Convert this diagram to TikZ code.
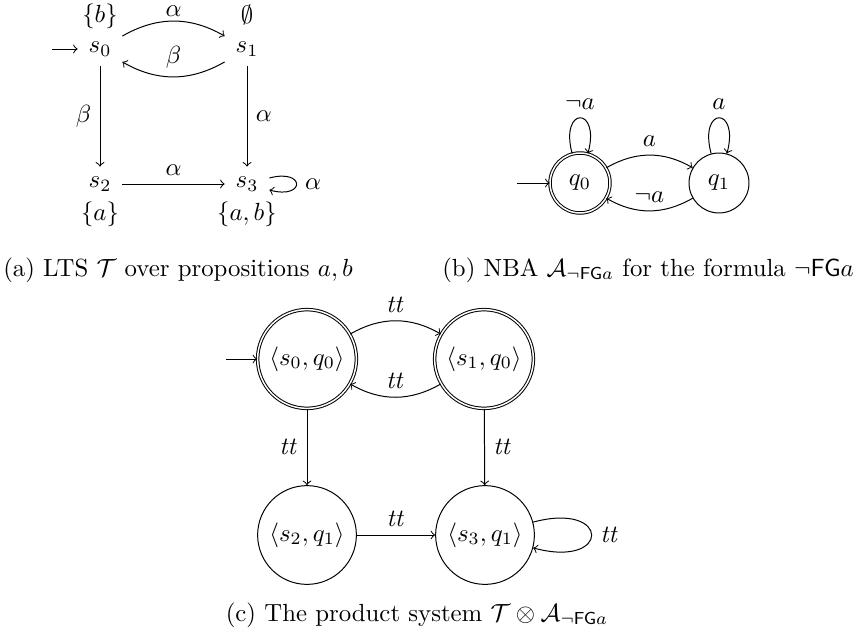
\documentclass[tikz,border=0pt]{standalone}
\usepackage{amssymb}
\begin{document}
\begin{tikzpicture}[x=0.01417cm, y=-0.01417cm,
  lts/.style={minimum width=0.62cm, minimum height=0.48cm, inner sep=0pt},
  nba/.style={circle, draw, minimum size=0.85cm, inner sep=0pt},
  prod/.style={circle, draw, minimum size=1.4cm, inner sep=0pt},
  acc/.style={double},
  arrow/.style={->}
]
\useasboundingbox (0,0) rectangle (857,635);
\node[lts] (s0) at (100,49) {$s_0$};
\node[lts] (s1) at (247,49) {$s_1$};
\node[lts] (s2) at (100,184) {$s_2$};
\node[lts] (s3) at (247,184) {$s_3$};
\node (ls0) at (100,16) {$\{b\}$};
\node (ls1) at (247,15) {$\emptyset$};
\node (ls2) at (100,214) {$\{a\}$};
\node (ls3) at (247,214) {$\{a,b\}$};
\coordinate (is) at (52,49);
\draw[arrow] (is) -- (s0);
\draw[arrow] (s0) to[bend left] node[above, inner sep=1.5pt] {$\alpha$} (s1);
\draw[arrow] (s1) to[bend left] node[above] {$\beta$} (s0);
\draw[arrow] (s0) -- node[left] {$\beta$} (s2);
\draw[arrow] (s1) -- node[right] {$\alpha$} (s3);
\draw[arrow] (s2) -- node[above] {$\alpha$} (s3);
\draw[arrow] (s3) to[loop right] node[right] {$\alpha$} (s3);

\node[nba, acc] (q0) at (580,183) {$q_0$};
\node[nba] (q1) at (719,183) {$q_1$};
\coordinate (iq) at (517,183);
\draw[arrow] (iq) -- (q0);
\draw[arrow] (q0) to[loop above] node[above] {$\neg a$} (q0);
\draw[arrow] (q1) to[loop above] node[above] {$a$} (q1);
\draw[arrow] (q0) to[bend left] node[above] {$a$} (q1);
\draw[arrow] (q1) to[bend left] node[above] {$\neg a$} (q0);

\node[prod, acc] (p0) at (307,359) {$\langle s_0, q_0\rangle$};
\node[prod, acc] (p1) at (484,359) {$\langle s_1, q_0\rangle$};
\node[prod] (p2) at (307,535) {$\langle s_2, q_1\rangle$};
\node[prod] (p3) at (485,535) {$\langle s_3, q_1\rangle$};
\coordinate (ip) at (226,359);
\draw[arrow] (ip) -- (p0);
\draw[arrow] (p0) to[bend left] node[above] {$\mathit{tt}$} (p1);
\draw[arrow] (p1) to[bend left] node[above] {$\mathit{tt}$} (p0);
\draw[arrow] (p0) -- node[left] {$\mathit{tt}$} (p2);
\draw[arrow] (p1) -- node[right] {$\mathit{tt}$} (p3);
\draw[arrow] (p2) -- node[above] {$\mathit{tt}$} (p3);
\draw[arrow] (p3) to[loop right] node[right] {$\mathit{tt}$} (p3);

\node (capa) at (178,270) {(a) LTS $\mathcal{T}$ over propositions $a,b$};
\node (capb) at (648,270) {(b) NBA $\mathcal{A}_{\neg\mathsf{FG}a}$ for the formula $\neg\mathsf{FG}a$};
\node (capc) at (417,615) {(c) The product system $\mathcal{T}\otimes\mathcal{A}_{\neg\mathsf{FG}a}$};
\end{tikzpicture}
\end{document}
